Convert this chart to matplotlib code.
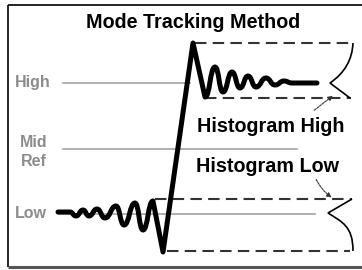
import matplotlib.pyplot as plt
from matplotlib.path import Path
from matplotlib.patches import PathPatch

# levels on the left (label, y in picture pixels)
level_names = ['High', 'Mid\nRef', 'Low']
level_y = [83, 149, 214]
level_x_end = [190, 297, 315]

# waveform extrema
wave_x = [58, 70, 76, 83, 89, 97, 105, 116, 124, 135, 143, 153, 163,
          193, 205, 215, 223, 232, 240, 248, 256, 266, 275, 284, 292, 317]
wave_y = [212, 212, 216, 210, 216, 209, 218, 206, 225, 203, 230, 201, 252,
          43, 97, 67, 92, 72, 88, 76, 87, 78, 85, 81, 83, 83]

# histogram bands: (top y, bottom y, top x start, bottom x start, right x)
hist_high = (43, 98, 195, 205, 353)
hist_low = (199, 251, 155, 167, 352)

plt.rcParams['font.family'] = ['Liberation Sans', 'DejaVu Sans']

fig = plt.figure(figsize=(3.62, 2.70), dpi=100)
ax = fig.add_axes([0, 0, 1, 1])
ax.set_xlim(0, 362)
ax.set_ylim(270, 0)
ax.axis('off')

# frame
ax.plot([8, 8], [5, 267], color='black', lw=1.2, solid_capstyle='butt')
ax.plot([8, 362], [5, 5], color='black', lw=1.2, solid_capstyle='butt')
ax.plot([8, 362], [267, 267], color='#555555', lw=2.2, solid_capstyle='butt')

ax.text(193, 23, 'Mode Tracking Method', ha='center', va='center',
        fontsize=14.2, fontweight='bold')

# gray reference levels
gray = '#8c8c8c'
for name, y, xe in zip(level_names, level_y, level_x_end):
    if name == 'Mid\nRef':
        ax.text(34, y + 3, name, ha='center', va='center', fontsize=11.5,
                fontweight='bold', color=gray, linespacing=1.35)
        x0 = 63
    elif name == 'Low':
        ax.text(15, y, name, ha='left', va='center', fontsize=11.5,
                fontweight='bold', color=gray)
        x0 = 58
    else:
        ax.text(15, y, name, ha='left', va='center', fontsize=11.5,
                fontweight='bold', color=gray)
        x0 = 63
    ax.plot([x0, xe], [y, y], color='#9a9a9a', lw=1.1, zorder=1)

# histogram bands
for top, bot, xt, xb, xr in (hist_high, hist_low):
    ax.plot([xt, xr], [top, top], color='#333333', lw=1.5,
            dashes=(5.5, 3), zorder=2)
    ax.plot([xb, xr - 2], [bot, bot], color='#333333', lw=1.5,
            dashes=(5.5, 3), zorder=2)

t, b, _, _, r = hist_high
tip = (330, level_y[0])
verts = [(r, t), (r - 1, t + 25), tip, (r - 3, b)]
codes = [Path.MOVETO, Path.CURVE3, Path.CURVE3, Path.LINETO]
ax.add_patch(PathPatch(Path(verts, codes), fill=False, lw=1.2,
                       edgecolor='black', zorder=3))

t, b, _, _, r = hist_low
tip = (328, level_y[2] - 1)
verts = [(r, t), tip, (342, 222), (353, 226), (r + 1, b)]
codes = [Path.MOVETO, Path.LINETO, Path.CURVE4, Path.CURVE4, Path.CURVE4]
ax.add_patch(PathPatch(Path(verts, codes), fill=False, lw=1.2,
                       edgecolor='black', zorder=3))

# waveform
straight = {0, 11, 12, 13, 24}
verts = [(wave_x[0], wave_y[0])]
codes = [Path.MOVETO]
for i in range(len(wave_x) - 1):
    x0, y0 = wave_x[i], wave_y[i]
    x1, y1 = wave_x[i + 1], wave_y[i + 1]
    if i in straight:
        verts.append((x1, y1))
        codes.append(Path.LINETO)
    else:
        h = (x1 - x0) * 0.5
        verts += [(x0 + h, y0), (x1 - h, y1), (x1, y1)]
        codes += [Path.CURVE4] * 3
ax.add_patch(PathPatch(Path(verts, codes), fill=False, lw=3.6,
                       edgecolor='black', capstyle='round',
                       joinstyle='round', zorder=4))

# labels with arrows
ax.text(271, 127, 'Histogram High', ha='center', va='center',
        fontsize=14.2, fontweight='bold')
ax.text(268, 167, 'Histogram Low', ha='center', va='center',
        fontsize=14.2, fontweight='bold')
ax.annotate('', xy=(335, 94), xytext=(312, 112),
            arrowprops=dict(arrowstyle='-|>', lw=0.8, color='#333333',
                            linestyle=(0, (2, 1)), mutation_scale=7))
ax.annotate('', xy=(334, 199), xytext=(315, 177),
            arrowprops=dict(arrowstyle='-|>', lw=0.8, color='#333333',
                            linestyle=(0, (2, 1)), mutation_scale=7,
                            connectionstyle='arc3,rad=0.15'))

plt.savefig('out.png', dpi=100)
